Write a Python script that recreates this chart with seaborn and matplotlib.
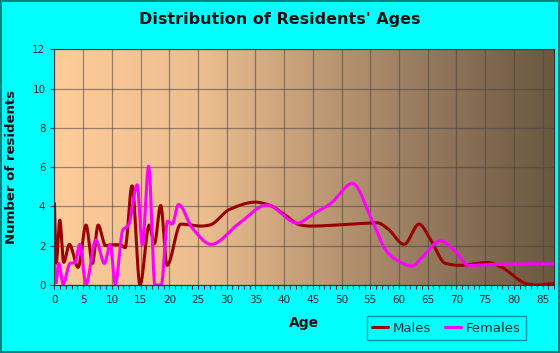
import matplotlib
matplotlib.use("Agg")
import matplotlib.pyplot as plt
import numpy as np
import pandas as pd
import seaborn as sns
from matplotlib.colors import LinearSegmentedColormap

# knots (age, residents); the chart draws a smooth curve through them
male_age = [0, 0.3, 0.93, 1.6, 2.6, 4.1, 5.5, 6.6, 7.6, 8.9, 10, 11.5, 12.3, 13.5, 14.9, 16.5,
            17.4, 18.5, 19.6, 22, 25.5, 27, 30.5, 35, 37.6, 40, 42.9, 44.6, 51.6, 56.2, 58,
            60.9, 63.5, 65.5, 68.1, 70.7, 75.4, 77.7, 82.4, 84, 87]
male_val = [4.15, 1.1, 3.3, 1.15, 2.07, 0.9, 3.05, 1.1, 3.05, 2.0, 2.05, 2.05, 1.9, 5.05, 0.0, 3.05,
            2.1, 4.05, 1.0, 3.1, 3.0, 3.05, 3.85, 4.22, 4.05, 3.6, 3.05, 3.0, 3.1, 3.17, 2.88,
            2.07, 3.1, 2.3, 1.1, 1.0, 1.15, 0.93, 0.05, 0.0, 0.08]

female_age = [0, 0.25, 0.75, 1.5, 2.7, 3.6, 4.4, 5.5, 7.2, 8.7, 9.7, 10.6, 11.9, 12.9, 14.4,
              15.3, 16.4, 17.5, 18.6, 19.7, 20.5, 21.6, 24, 27.3, 32, 37, 42.3, 45, 48.1,
              51.9, 55.3, 57.7, 59.1, 62.3, 64.3, 67.2, 69.6, 72.2, 74.2, 80, 87]
female_val = [1.0, 0.1, 1.1, 0.05, 1.1, 1.15, 2.07, 0.05, 2.3, 1.1, 2.05, 0.05, 2.8, 3.05, 5.1,
              2.05, 6.05, 0.0, 0.0, 3.25, 3.1, 4.1, 2.9, 2.07, 3.1, 4.07, 3.15, 3.6, 4.15,
              5.17, 3.3, 1.78, 1.36, 0.97, 1.5, 2.25, 1.78, 1.0, 1.02, 1.07, 1.08]

series_names = ["Males", "Females"]
series_colors = ["#990000", "#FF00FF"]
x_ticks = list(range(0, 90, 5))
y_ticks = list(range(0, 14, 2))


def pchip(xk, yk, xs):
    # monotone cubic (Fritsch-Carlson) so peaks stay at the knots
    xk = np.asarray(xk, float)
    yk = np.asarray(yk, float)
    h = np.diff(xk)
    d = np.diff(yk) / h
    m = np.zeros_like(yk)
    for i in range(1, len(xk) - 1):
        if d[i - 1] * d[i] > 0:
            w1 = 2 * h[i] + h[i - 1]
            w2 = h[i] + 2 * h[i - 1]
            m[i] = (w1 + w2) / (w1 / d[i - 1] + w2 / d[i])
    m[0] = d[0]
    m[-1] = d[-1]
    idx = np.clip(np.searchsorted(xk, xs) - 1, 0, len(h) - 1)
    t = (xs - xk[idx]) / h[idx]
    h00 = 2 * t**3 - 3 * t**2 + 1
    h10 = t**3 - 2 * t**2 + t
    h01 = -2 * t**3 + 3 * t**2
    h11 = t**3 - t**2
    return h00 * yk[idx] + h10 * h[idx] * m[idx] + h01 * yk[idx + 1] + h11 * h[idx] * m[idx + 1]


frames = []
for name, ages, vals in [("Males", male_age, male_val), ("Females", female_age, female_val)]:
    xs = np.linspace(ages[0], ages[-1], 1500)
    frames.append(pd.DataFrame({"Age": xs, "residents": np.clip(pchip(ages, vals, xs), 0, None), "series": name}))
df = pd.concat(frames, ignore_index=True)

sns.set_style("white")
fig = plt.figure(figsize=(5.6, 3.53), dpi=100, facecolor="#00FFFF", edgecolor="#008080", linewidth=1.5)
ax = fig.add_axes([0.0973, 0.1926, 0.8920, 0.6677])

bg = LinearSegmentedColormap.from_list(
    "bg", [(0, "#FFCC99"), (0.3, "#EBBD8F"), (0.7, "#9E8063"), (1, "#6B5741")])
ax.imshow(np.linspace(0, 1, 256).reshape(1, -1), cmap=bg, aspect="auto",
          extent=[0, 87, 0, 12], zorder=0)

sns.lineplot(data=df, x="Age", y="residents", hue="series", palette=series_colors,
             hue_order=series_names, estimator=None, sort=False, linewidth=2.2, ax=ax, zorder=3)

ax.set_xlim(0, 87)
ax.set_ylim(0, 12)
ax.set_xticks(x_ticks)
ax.set_xticks(range(0, 88), minor=True)
ax.set_yticks(y_ticks)
ax.grid(True, which="major", color="#444444", alpha=0.55, linewidth=0.9, zorder=1)
ax.set_axisbelow(False)
ax.tick_params(axis="x", which="both", direction="out", bottom=True, length=3, width=0.8,
               colors="#333333", labelcolor="#002222", labelsize=7.5, pad=4)
ax.tick_params(axis="y", which="major", left=True, direction="out", length=3, width=0.8,
               colors="#333333", labelcolor="#002222", labelsize=7.5)
for s in ax.spines.values():
    s.set_color("#333333")
    s.set_linewidth(0.8)
    s.set_zorder(4)

ax.set_xlabel("Age", fontsize=10, fontweight="bold", color="#111111", labelpad=8)
ax.set_ylabel("Number of residents", fontsize=9.5, fontweight="bold", color="#111111", labelpad=10)
ax.yaxis.set_label_coords(-0.073, 0.5)
fig.text(0.5, 0.945, "Distribution of Residents' Ages", ha="center", va="center",
         fontsize=11.5, fontweight="bold", color="#111111")

handles, labels = ax.get_legend_handles_labels()
leg = ax.legend(handles, labels, loc="upper left", bbox_to_anchor=(0.655, 0.104),
                bbox_transform=fig.transFigure, ncol=2, fontsize=9.5, frameon=True,
                fancybox=False, handlelength=1.2, handletextpad=0.4, columnspacing=1.0,
                borderpad=0.4, borderaxespad=0)
leg.get_frame().set_facecolor("#00FFFF")
leg.get_frame().set_edgecolor("#008080")
leg.get_frame().set_linewidth(1.0)
for t in leg.get_texts():
    t.set_color("#003333")

fig.savefig("out.png", dpi=100, facecolor=fig.get_facecolor(), edgecolor=fig.get_edgecolor())
